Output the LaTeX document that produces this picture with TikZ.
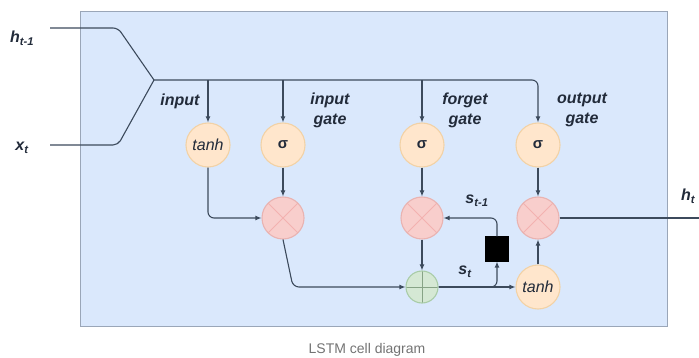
\documentclass[tikz,border=0pt]{standalone}
\usepackage{fontspec}
\setmainfont{Liberation Sans}
\usepackage{xcolor}
\usetikzlibrary{arrows.meta,calc}

\definecolor{cellfill}{HTML}{DAE8FC}
\definecolor{cellline}{HTML}{9AA6B8}
\definecolor{wire}{HTML}{3C4A5C}
\definecolor{gatefill}{HTML}{FFE6CC}
\definecolor{gateline}{HTML}{F2D2A6}
\definecolor{mulfill}{HTML}{F8CECC}
\definecolor{mulline}{HTML}{E9B3B1}
\definecolor{addfill}{HTML}{D5E8D4}
\definecolor{addline}{HTML}{A9CCA7}
\definecolor{labtext}{HTML}{222B3A}

\tikzset{
    gatecirc/.style={circle, draw=gateline, fill=gatefill, minimum size=44pt, inner sep=0pt, text=labtext},
    mulcirc/.style={circle, draw=mulline, fill=mulfill, minimum size=42pt, inner sep=0pt,
        path picture={\draw[mulline!80!red!70, line width=0.9pt]
            (path picture bounding box.south west) -- (path picture bounding box.north east)
            (path picture bounding box.north west) -- (path picture bounding box.south east);}},
    addcirc/.style={circle, draw=addline, fill=addfill, minimum size=32pt, inner sep=0pt,
        path picture={\draw[addline!80!black, line width=0.9pt]
            (path picture bounding box.west) -- (path picture bounding box.east)
            (path picture bounding box.north) -- (path picture bounding box.south);}},
    lbl/.style={font=\fontsize{16}{20}\selectfont\bfseries\itshape, text=labtext, align=center},
    arr/.style={-{Latex[length=6pt,width=5pt]}},
}

\begin{document}
\begin{tikzpicture}[x=1pt, y=-1pt, line width=1.1pt, draw=wire]
    \useasboundingbox (0,0) rectangle (699,358);
    % cell background
    \draw[cellline, fill=cellfill, line width=1pt] (80,12) rectangle (667,326);

    % inputs and bus
    \coordinate (hprev) at (50,28);
    \coordinate (xin) at (50,145);
    \coordinate (junc) at (154,80);
    \node[lbl] (hlab) at (22,38) {h\textsubscript{t-1}};
    \node[lbl] (xlab) at (22,148) {x\textsubscript{t}};
    \draw[rounded corners=5pt] (hprev) -- (118,28) -- (junc);
    \draw[rounded corners=5pt] (xin) -- (118,145) -- (junc);

    % gates
    \node[gatecirc, font=\fontsize{16}{20}\selectfont\itshape] (tanhin) at (208,145) {tanh};
    \node[gatecirc, font=\fontsize{15}{18}\selectfont\bfseries] (sigin) at (283,145) {σ};
    \node[gatecirc, font=\fontsize{15}{18}\selectfont\bfseries] (sigfg) at (422,145) {σ};
    \node[gatecirc, font=\fontsize{15}{18}\selectfont\bfseries] (sigout) at (538,145) {σ};

    % operators
    \node[mulcirc] (mulin) at (283,218) {};
    \node[mulcirc] (mulfg) at (422,218) {};
    \node[mulcirc] (mulout) at (538,218) {};
    \node[addcirc] (addst) at (422,287) {};
    \node[gatecirc, font=\fontsize{16}{20}\selectfont\itshape] (tanhout) at (538,287) {tanh};
    \node[fill=black, draw=black, minimum width=22pt, minimum height=24pt, inner sep=0pt] (delay) at (497,249) {};

    % labels
    \node[lbl] (inlab) at (180,101) {input};
    \node[lbl] (iglab) at (330,110) {input\\gate};
    \node[lbl] (fglab) at (465,110) {forget\\gate};
    \node[lbl] (oglab) at (582,110) {output\\gate};
    \node[lbl] (sprevlab) at (477,201) {s\textsubscript{t-1}};
    \node[lbl] (slab) at (465,272) {s\textsubscript{t}};
    \node[lbl] (hlabout) at (688,196) {h\textsubscript{t}};
    \node[font=\fontsize{14}{17}\selectfont, text=black!55] (caption) at (367,350) {LSTM cell diagram};

    % bus to gates
    \draw[arr, rounded corners=6pt] (junc) -- (538,80) -- (sigout.north);
    \draw[arr] (208,80) -- (tanhin.north);
    \draw[arr] (283,80) -- (sigin.north);
    \draw[arr] (422,80) -- (sigfg.north);

    % cell wiring
    \draw[arr, rounded corners=6pt] (tanhin.south) |- (mulin.west);
    \draw[arr] (sigin.south) -- (mulin.north);
    \draw[arr, rounded corners=6pt] (mulin.south) -- (293,287) -- (addst.west);
    \draw[arr] (sigfg.south) -- (mulfg.north);
    \draw[arr] (mulfg.south) -- (addst.north);
    \draw[arr] (addst.east) -- (tanhout.west);
    \draw[arr, rounded corners=6pt] (addst.east) -| (delay.south);
    \draw[arr, rounded corners=6pt] (delay.north) |- (mulfg.east);
    \draw[arr] (tanhout.north) -- (mulout.south);
    \draw[arr] (sigout.south) -- (mulout.north);
    \coordinate (hout) at (699,218);
    \draw (mulout.east) -- (hout);
\end{tikzpicture}
\end{document}
